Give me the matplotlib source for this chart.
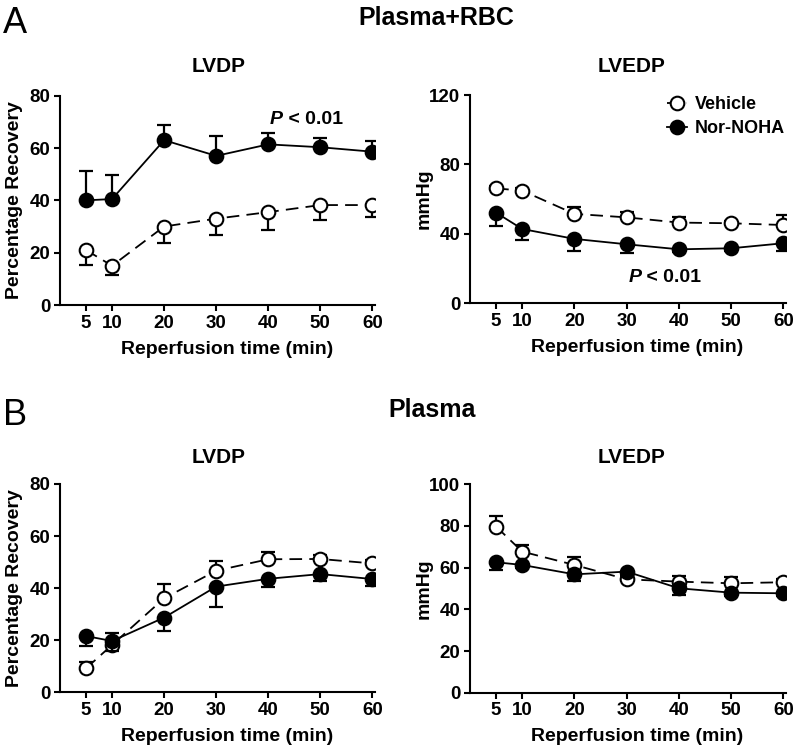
import matplotlib
matplotlib.use("Agg")
import matplotlib.pyplot as plt
import numpy as np

plt.rcParams["font.family"] = ["Liberation Sans", "DejaVu Sans"]
plt.rcParams["font.weight"] = "bold"
plt.rcParams["axes.labelweight"] = "bold"

# reperfusion time points (min)
times = np.array([5, 10, 20, 30, 40, 50, 60])

# A: Plasma+RBC
a_lvdp_veh = np.array([21.0, 15.0, 30.0, 33.0, 35.5, 38.2, 38.2])
a_lvdp_veh_err = np.array([5.8, 3.6, 6.4, 6.2, 6.7, 5.7, 4.4])
a_lvdp_nor = np.array([40.0, 40.5, 63.0, 57.0, 61.4, 60.3, 58.6])
a_lvdp_nor_err = np.array([11.3, 9.2, 5.9, 7.6, 4.2, 3.4, 3.9])

a_lvedp_veh = np.array([66.2, 64.9, 51.5, 49.5, 46.5, 46.1, 45.1])
a_lvedp_veh_err = np.array([1.5, 1.5, 4.2, 3.3, 3.4, 1.5, 5.8])
a_lvedp_nor = np.array([52.2, 42.8, 37.1, 34.0, 31.1, 31.7, 34.6])
a_lvedp_nor_err = np.array([7.7, 6.5, 6.8, 5.2, 1.5, 1.5, 4.6])

# B: Plasma
b_lvdp_veh = np.array([9.2, 18.2, 36.1, 46.7, 51.1, 51.2, 49.5])
b_lvdp_veh_err = np.array([2.6, 4.7, 5.5, 3.7, 2.7, 1.5, 1.5])
b_lvdp_nor = np.array([21.6, 19.7, 28.7, 40.6, 43.6, 45.4, 43.5])
b_lvdp_nor_err = np.array([3.7, 3.8, 5.2, 8.0, 3.3, 2.5, 2.7])

b_lvedp_veh = np.array([79.7, 67.7, 61.3, 54.4, 53.3, 52.5, 53.0])
b_lvedp_veh_err = np.array([5.1, 3.2, 3.7, 1.5, 2.9, 2.9, 1.5])
b_lvedp_nor = np.array([62.6, 61.3, 56.8, 58.1, 50.1, 48.0, 47.7])
b_lvedp_nor_err = np.array([3.7, 1.5, 3.0, 1.5, 3.2, 1.5, 1.5])

W, H = 799, 753
fig = plt.figure(figsize=(W / 100, H / 100), dpi=100)


def px_axes(left, top, right, bottom):
    return fig.add_axes([left / W, 1 - bottom / H, (right - left) / W, (bottom - top) / H])


def one_sided(ax, x, y, err, up, z):
    tip = y + err if up else y - err
    ax.vlines(x, y, tip, color="k", lw=1.6, zorder=z)
    ax.plot(x, tip, ls="none", marker="_", ms=9.5, mew=1.6, color="k", zorder=z)


def panel(ax, veh, veh_err, veh_up, nor, nor_err, ymax, ystep, ylabel):
    one_sided(ax, times, veh, veh_err, veh_up, 2)
    ax.plot(times, veh, color="k", lw=1.3, dashes=(7, 4), marker="o", ms=9.8,
            mfc="white", mec="k", mew=1.5, zorder=3, label="Vehicle")
    one_sided(ax, times, nor, nor_err, not veh_up, 4)
    ax.plot(times, nor, color="k", lw=1.3, marker="o", ms=9.8,
            mfc="k", mec="k", mew=1.5, zorder=5, label="Nor-NOHA")
    ax.set_xlim(0, 60.5)
    ax.set_ylim(0, ymax)
    ax.set_xticks(times)
    ax.set_yticks(np.arange(0, ymax + 1, ystep))
    for s in ["top", "right"]:
        ax.spines[s].set_visible(False)
    for s in ["left", "bottom"]:
        ax.spines[s].set_linewidth(1.5)
    ax.tick_params(labelsize=13.5, length=4, width=1.5, pad=3)
    ax.set_xlabel("Reperfusion time (min)", fontsize=14)
    ax.set_ylabel(ylabel, fontsize=14)
    ax.xaxis.set_label_coords(0.53, -0.17)
    ax.yaxis.set_label_coords(-0.118, 0.5)


def p_text(ax, x, y):
    ax.text(x, y, "P", fontsize=14, style="italic", weight="bold", va="baseline")
    ax.annotate(" < 0.01", xy=(x, y), xytext=(9.5, 0), textcoords="offset points",
                fontsize=14, weight="bold", va="baseline")


ax1 = px_axes(60, 95.7, 375, 305)
panel(ax1, a_lvdp_veh, a_lvdp_veh_err, False, a_lvdp_nor, a_lvdp_nor_err, 80, 20,
      "Percentage Recovery")
p_text(ax1, 40.2, 69.1)

ax2 = px_axes(470, 95, 786, 303.3)
panel(ax2, a_lvedp_veh, a_lvedp_veh_err, True, a_lvedp_nor, a_lvedp_nor_err, 120, 40,
      "mmHg")
p_text(ax2, 30.3, 12.4)
ax2.legend(loc="upper left", bbox_to_anchor=(0.623, 0.995), frameon=False, fontsize=13,
           handlelength=1.1, handletextpad=0.45, labelspacing=0.4,
           borderpad=0, borderaxespad=0)

ax3 = px_axes(60, 484, 375, 692.3)
panel(ax3, b_lvdp_veh, b_lvdp_veh_err, True, b_lvdp_nor, b_lvdp_nor_err, 80, 20,
      "Percentage Recovery")

ax4 = px_axes(470, 484.3, 786, 692.7)
panel(ax4, b_lvedp_veh, b_lvedp_veh_err, True, b_lvedp_nor, b_lvedp_nor_err, 100, 20,
      "mmHg")


def ftext(x, y, s, **kw):
    fig.text(x / W, 1 - y / H, s, va="baseline", **kw)


ftext(3, 33, "A", fontsize=26, weight="normal")
ftext(3, 425, "B", fontsize=26, weight="normal")
ftext(436, 25, "Plasma+RBC", fontsize=18, ha="center")
ftext(432, 417, "Plasma", fontsize=18, ha="center")
for yb in (72, 463):
    ftext(219, yb, "LVDP", fontsize=15, ha="center")
    ftext(632, yb, "LVEDP", fontsize=15, ha="center")

fig.savefig("out.png", dpi=100)
